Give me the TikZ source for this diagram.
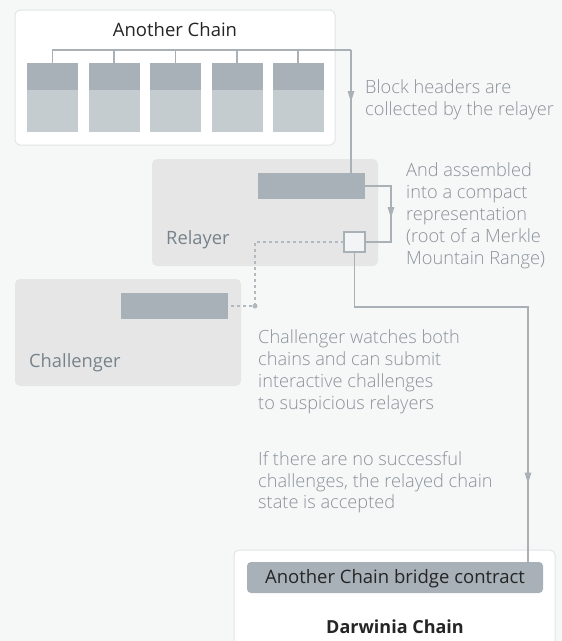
\documentclass[tikz,border=0pt]{standalone}
\usepackage{fontspec}
\setmainfont{Open Sans}
\IfFontExistsTF{Open Sans Light}{\newfontfamily\lightf{Open Sans Light}}{\newfontfamily\lightf{Open Sans}}
\usetikzlibrary{arrows.meta,decorations.markings}
\definecolor{bgc}{HTML}{F6F7F7}
\definecolor{linec}{HTML}{A9B1B7}
\definecolor{darkc}{HTML}{A9B1B8}
\definecolor{lightc}{HTML}{C5CCD0}
\definecolor{panelc}{HTML}{E6E6E6}
\definecolor{borderc}{HTML}{E1E4E6}
\definecolor{notec}{HTML}{8A939A}
\definecolor{labelc}{HTML}{76838A}
\definecolor{textc}{HTML}{252525}
\definecolor{dashc}{HTML}{B3BABF}
\definecolor{sqc}{HTML}{F3F4F5}
\begin{document}
\begin{tikzpicture}[x=1pt,y=-1pt,
  box/.style={draw=none, inner sep=0, outer sep=0},
  conn/.style={draw=linec, line width=1.3pt},
  dconn/.style={draw=dashc, line width=1.3pt, dash pattern=on 3pt off 3pt},
  tipat/.style={postaction={decorate}, decoration={markings, mark=at position #1 with {\arrow{Triangle[width=6.5pt,length=11pt]}}}},
  note/.style={text=notec, font=\lightf\fontsize{18.2}{22}\selectfont, anchor=base west, inner sep=0},
  lbl/.style={text=labelc, font=\fontsize{18.3}{22}\selectfont, anchor=base west, inner sep=0},
  ttl/.style={text=textc, font=\fontsize{18.5}{22}\selectfont, anchor=base, inner sep=0},
  ]
\useasboundingbox[fill=bgc] (0,0) rectangle (562,641);
\clip (0,0) rectangle (562,641);

% Another Chain
\node[box, fill=white, draw=borderc, line width=1pt, rounded corners=5pt, minimum width=320pt, minimum height=135pt] (another) at (175,77.5) {};
\node[ttl] (anotherT) at (175,36) {Another Chain};
\foreach \i/\x in {1/52.5,2/114,3/175.5,4/237,5/298} {
  \node[box, fill=lightc, minimum width=51pt, minimum height=69pt] (b\i) at (\x,97.5) {};
  \node[box, fill=darkc, minimum width=51pt, minimum height=27pt, anchor=north] (h\i) at (b\i.north) {};
}
\coordinate (busend) at (351,50);

% Relayer
\node[box, fill=panelc, rounded corners=5pt, minimum width=226pt, minimum height=107pt] (relayer) at (265,212.5) {};
\node[box, fill=darkc, minimum width=107pt, minimum height=26pt] (hdr) at (311.5,186) {};
\node[box, fill=sqc, draw=linec, line width=1.2pt, minimum width=21pt, minimum height=20pt] (mmr) at (354.5,242) {};
\node[lbl] (relayerT) at (166,244) {Relayer};
\coordinate (loop) at (391,186);

% Challenger
\node[box, fill=panelc, rounded corners=5pt, minimum width=226pt, minimum height=107pt] (chal) at (128,332.5) {};
\node[box, fill=darkc, minimum width=107pt, minimum height=26pt] (chdr) at (174.5,306) {};
\node[lbl] (chalT) at (29,367) {Challenger};
\node[circle, fill=dashc, inner sep=0, minimum size=5pt] (dot) at (255,306) {};

% Darwinia
\node[box, fill=white, draw=borderc, line width=1pt, rounded corners=5pt, minimum width=321pt, minimum height=120pt, anchor=north] (darwinia) at (394.5,550) {};
\node[box, fill=darkc, rounded corners=4pt, minimum width=296pt, minimum height=31pt] (bridge) at (395,577.5) {};
\node[ttl] (bridgeT) at (395,583) {Another Chain bridge contract};
\node[ttl, font=\fontsize{18}{22}\selectfont\bfseries] (darwiniaT) at (395,633) {Darwinia Chain};
\coordinate (turn) at (528,307);

% connectors
\draw[conn] (b1.north) |- (busend);
\foreach \i in {2,3,4,5} { \draw[conn] (b\i.north) -- (b\i.north |- busend); }
\draw[conn, tipat=52pt] (busend) -- (hdr.north -| busend);
\draw[conn, tipat=58pt] (hdr.east) -- (loop) |- (mmr.east);
\draw[conn, tipat=405pt] (mmr.south) |- (turn) -- (bridge.north -| turn);
\draw[dconn] (mmr.west) -| (dot.center) -- (chdr.east);

% notes
\node[note] (n1a) at (365,93) {Block headers are};
\node[note] (n1b) at (365,115) {collected by the relayer};
\node[note] (n2a) at (406,176) {And assembled};
\node[note] (n2b) at (406,198) {into a compact};
\node[note] (n2c) at (406,220) {representation};
\node[note] (n2d) at (406,242) {(root of a Merkle};
\node[note] (n2e) at (406,264) {Mountain Range)};
\node[note] (n3a) at (258,343) {Challenger watches both};
\node[note] (n3b) at (258,365) {chains and can submit};
\node[note] (n3c) at (258,387) {interactive challenges};
\node[note] (n3d) at (258,409) {to suspicious relayers};
\node[note] (n4a) at (258,465) {If there are no successful};
\node[note] (n4b) at (258,487) {challenges, the relayed chain};
\node[note] (n4c) at (258,508) {state is accepted};
\end{tikzpicture}
\end{document}
